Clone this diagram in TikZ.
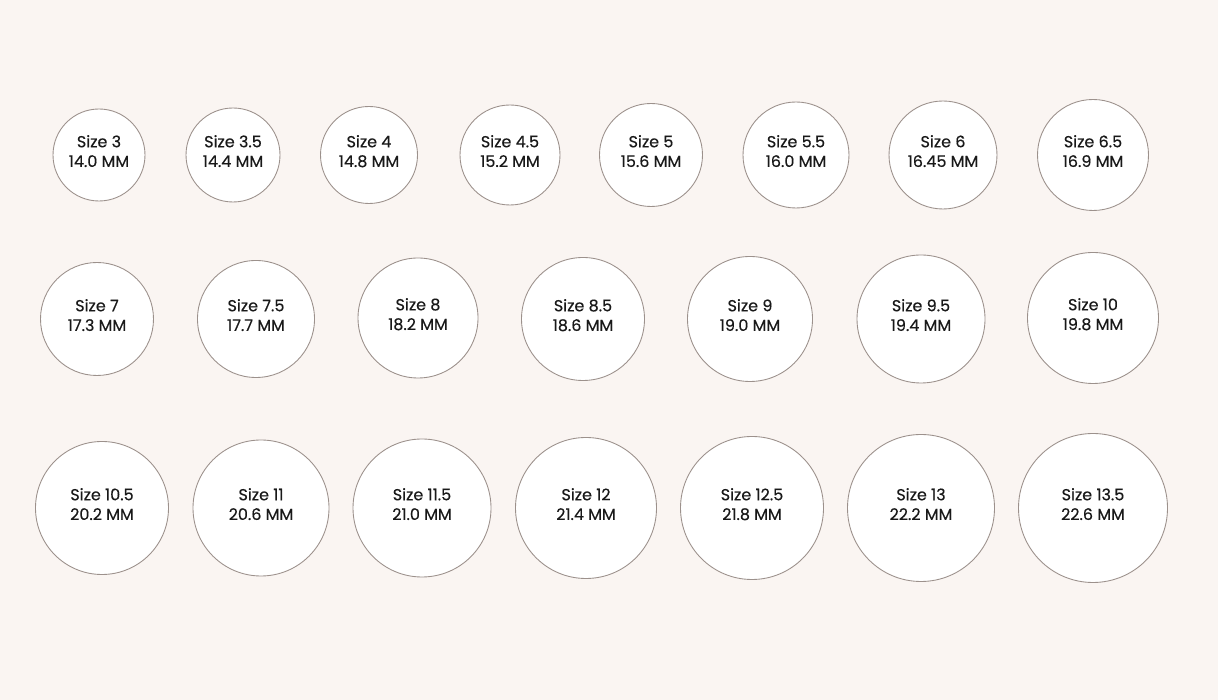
\documentclass[tikz,border=0pt]{standalone}
\usepackage{fontspec}
\setmainfont{Poppins}[FakeBold=0.35]
\definecolor{paper}{HTML}{FAF5F2}
\definecolor{rim}{HTML}{9C918C}
\tikzset{
  ring/.style={circle, draw=rim, line width=0.5pt, fill=white, inner sep=0pt,
    align=center, font=\fontsize{9.1}{11.2}\selectfont, text=black!90,
    text depth=4.5pt},
}
\begin{document}
\begin{tikzpicture}
      \fill[paper] (0,0) rectangle (24.36,14);
      \useasboundingbox (0,0) rectangle (24.36,14);
      % first row
      \draw
        (1.98,10.9) node[ring, minimum size=1.84cm] (0){Size 3\\14.0 MM}
        (4.66,10.9) node[ring, minimum size=1.88cm] (1){Size 3.5\\14.4 MM}
        (7.38,10.9) node[ring, minimum size=1.94cm] (2){Size 4\\14.8 MM}
        (10.2,10.9) node[ring, minimum size=2.00cm] (3){Size 4.5\\15.2 MM}
        (13.02,10.9) node[ring, minimum size=2.06cm] (4){Size 5\\15.6 MM}
        (15.92,10.9) node[ring, minimum size=2.12cm] (5){Size 5.5\\16.0 MM}
        (18.86,10.9) node[ring, minimum size=2.16cm] (6){Size 6\\16.45 MM}
        (21.86,10.9) node[ring, minimum size=2.22cm] (7){Size 6.5\\16.9 MM};
      % second row
      \draw
        (1.94,7.62) node[ring, minimum size=2.26cm] (8){Size 7\\17.3 MM}
        (5.12,7.62) node[ring, minimum size=2.34cm] (9){Size 7.5\\17.7 MM}
        (8.36,7.64) node[ring, minimum size=2.40cm] (10){Size 8\\18.2 MM}
        (11.66,7.62) node[ring, minimum size=2.46cm] (11){Size 8.5\\18.6 MM}
        (15.0,7.62) node[ring, minimum size=2.50cm] (12){Size 9\\19.0 MM}
        (18.42,7.62) node[ring, minimum size=2.56cm] (13){Size 9.5\\19.4 MM}
        (21.86,7.64) node[ring, minimum size=2.62cm] (14){Size 10\\19.8 MM};
      % third row
      \draw
        (2.04,3.84) node[ring, minimum size=2.66cm] (15){Size 10.5\\20.2 MM}
        (5.22,3.84) node[ring, minimum size=2.72cm] (16){Size 11\\20.6 MM}
        (8.44,3.84) node[ring, minimum size=2.76cm] (17){Size 11.5\\21.0 MM}
        (11.72,3.84) node[ring, minimum size=2.82cm] (18){Size 12\\21.4 MM}
        (15.04,3.84) node[ring, minimum size=2.86cm] (19){Size 12.5\\21.8 MM}
        (18.42,3.84) node[ring, minimum size=2.94cm] (20){Size 13\\22.2 MM}
        (21.86,3.84) node[ring, minimum size=2.98cm] (21){Size 13.5\\22.6 MM};
    \end{tikzpicture}
\end{document}
